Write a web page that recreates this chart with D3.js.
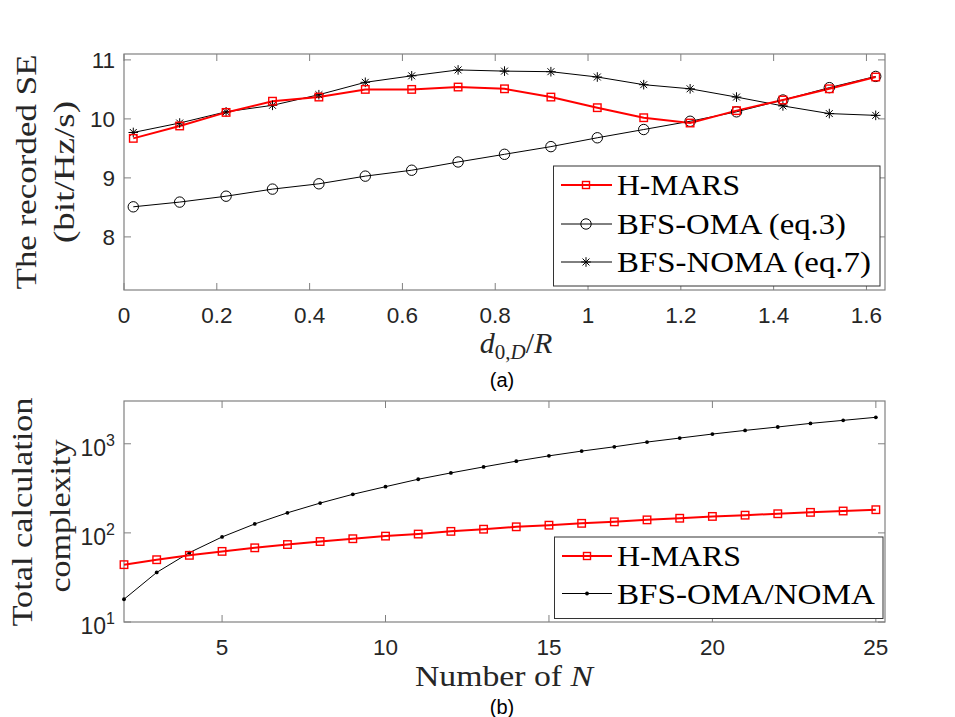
<!DOCTYPE html>
<html>
<head>
<meta charset="utf-8">
<script src="https://cdn.jsdelivr.net/npm/d3@7"></script>
<style>
  html, body { margin: 0; padding: 0; background: #fff; }
  svg { display: block; }
</style>
</head>
<body>
<svg id="chart" width="955" height="717"></svg>
<script>
// ---------- data: panel (a) ----------
const distRatio = [0.02, 0.12, 0.22, 0.32, 0.42, 0.52, 0.62, 0.72, 0.82, 0.92, 1.02, 1.12, 1.22, 1.32, 1.42, 1.52, 1.62];
const hmarsSE  = [9.67, 9.88, 10.11, 10.30, 10.37, 10.50, 10.50, 10.54, 10.51, 10.37, 10.19, 10.02, 9.93, 10.14, 10.32, 10.51, 10.71];
const omaSE    = [8.51, 8.59, 8.69, 8.81, 8.90, 9.03, 9.13, 9.27, 9.40, 9.53, 9.68, 9.82, 9.96, 10.12, 10.32, 10.53, 10.72];
const nomaSE   = [9.77, 9.93, 10.12, 10.23, 10.41, 10.62, 10.73, 10.83, 10.81, 10.80, 10.71, 10.58, 10.51, 10.37, 10.22, 10.09, 10.06];
const topXTicks = [0, 0.2, 0.4, 0.6, 0.8, 1, 1.2, 1.4, 1.6];
const topYTicks = [8, 9, 10, 11];
const topLegend = ["H-MARS", "BFS-OMA (eq.3)", "BFS-NOMA (eq.7)"];

// ---------- data: panel (b) ----------
const nValues  = [2, 3, 4, 5, 6, 7, 8, 9, 10, 11, 12, 13, 14, 15, 16, 17, 18, 19, 20, 21, 22, 23, 24, 25];
const hmarsCx  = [44, 50, 56, 62, 68, 74, 80, 86, 92, 97, 104, 110, 117, 122, 128, 133, 140, 146, 153, 158, 164, 170, 176, 182];
const bfsCx    = [18, 36, 60, 90, 126, 168, 216, 271, 330, 400, 471, 550, 638, 732, 828, 925, 1045, 1159, 1286, 1413, 1543, 1694, 1832, 1982];
const botXTicks = [5, 10, 15, 20, 25];
const botYTicks = [10, 100, 1000];
const botLegend = ["H-MARS", "BFS-OMA/NOMA"];

// ---------- styling ----------
const AXIS = "#808080", TXT = "#262626", RED = "#ff0000";
const SANS = "'Liberation Sans', Arial, Helvetica, sans-serif";
const SERIF = "'Liberation Serif', 'Times New Roman', serif";
const TICK_FS = 22.5;

const svg = d3.select("#chart");

// ---------- scales ----------
const xTop = d3.scaleLinear().domain([0, 1.64]).range([124, 885]);
const yTop = d3.scaleLinear().domain([7.1, 11.1]).range([290, 54]);
const xBot = d3.scaleLinear().domain([2, 25.28]).range([124, 885]);
const yBot = d3.scaleLog().domain([10, 3020]).range([622, 401]);

function drawFrame(x, y, xticks, yticks, xfmt, yfmtFn) {
  const g = svg.append("g");
  const [x0, x1] = x.range(), [y0, y1] = y.range(); // y0 bottom, y1 top
  const T = 7;
  xticks.forEach(t => {
    const px = x(t);
    g.append("line").attr("x1", px).attr("x2", px).attr("y1", y0).attr("y2", y0 - T).attr("stroke", AXIS);
    g.append("line").attr("x1", px).attr("x2", px).attr("y1", y1).attr("y2", y1 + T).attr("stroke", AXIS);
    g.append("text").attr("x", px).attr("y", y0 + 33).attr("text-anchor", "middle")
      .attr("font-family", SANS).attr("font-size", TICK_FS).attr("fill", TXT).text(xfmt(t));
  });
  yticks.forEach(t => {
    const py = y(t);
    g.append("line").attr("x1", x0).attr("x2", x0 + T).attr("y1", py).attr("y2", py).attr("stroke", AXIS);
    g.append("line").attr("x1", x1).attr("x2", x1 - T).attr("y1", py).attr("y2", py).attr("stroke", AXIS);
    yfmtFn(g, t, x0 - 9, py);
  });
  g.append("rect").attr("x", x0).attr("y", y1).attr("width", x1 - x0).attr("height", y0 - y1)
    .attr("fill", "none").attr("stroke", AXIS).attr("stroke-width", 1.2);
  return g;
}

// marker helpers
function square(g, cx, cy, color, s) {
  g.append("rect").attr("x", cx - s / 2).attr("y", cy - s / 2).attr("width", s).attr("height", s)
    .attr("fill", "none").attr("stroke", color).attr("stroke-width", 1.4);
}
function circle(g, cx, cy) {
  g.append("circle").attr("cx", cx).attr("cy", cy).attr("r", 5.2)
    .attr("fill", "none").attr("stroke", "#000").attr("stroke-width", 1);
}
function star(g, cx, cy) {
  const r = 4.8, d = r * 0.72;
  [[0, -r, 0, r], [-r, 0, r, 0], [-d, -d, d, d], [-d, d, d, -d]].forEach(l =>
    g.append("line").attr("x1", cx + l[0]).attr("y1", cy + l[1]).attr("x2", cx + l[2]).attr("y2", cy + l[3])
      .attr("stroke", "#000").attr("stroke-width", 1));
}
function dot(g, cx, cy) {
  g.append("circle").attr("cx", cx).attr("cy", cy).attr("r", 1.9).attr("fill", "#000");
}

// ---------- panel (a) ----------
drawFrame(xTop, yTop, topXTicks, topYTicks, d => String(+d.toFixed(1)), (g, t, x, y) => {
  g.append("text").attr("x", x).attr("y", y + 8).attr("text-anchor", "end")
    .attr("font-family", SANS).attr("font-size", TICK_FS).attr("fill", TXT).text(t);
});

const gA = svg.append("g");
function series(g, xs, ys, x, y, color, width) {
  const line = d3.line().x((d, i) => x(xs[i])).y(d => y(d));
  g.append("path").datum(ys).attr("d", line).attr("fill", "none").attr("stroke", color).attr("stroke-width", width);
}
series(gA, distRatio, omaSE, xTop, yTop, "#000", 1);
series(gA, distRatio, nomaSE, xTop, yTop, "#000", 1);
series(gA, distRatio, hmarsSE, xTop, yTop, RED, 2);
omaSE.forEach((v, i) => circle(gA, xTop(distRatio[i]), yTop(v)));
nomaSE.forEach((v, i) => star(gA, xTop(distRatio[i]), yTop(v)));
hmarsSE.forEach((v, i) => square(gA, xTop(distRatio[i]), yTop(v), RED, 7.5));

// legend (a)
{
  const g = svg.append("g");
  g.append("rect").attr("x", 553.5).attr("y", 166).attr("width", 326.5).attr("height", 120)
    .attr("fill", "#fff").attr("stroke", "#333").attr("stroke-width", 1);
  const rows = [195, 234, 272];
  const lens = [123, 229, 254];
  rows.forEach((by, i) => {
    const cy = by - 10;
    g.append("line").attr("x1", 561).attr("x2", 612).attr("y1", cy).attr("y2", cy)
      .attr("stroke", i === 0 ? RED : "#000").attr("stroke-width", i === 0 ? 2 : 1);
    if (i === 0) square(g, 586, cy, RED, 7);
    else if (i === 1) circle(g, 586, cy);
    else star(g, 586, cy);
    g.append("text").attr("x", 617).attr("y", by).attr("font-family", SERIF).attr("font-size", 30)
      .attr("fill", "#000").attr("textLength", lens[i]).attr("lengthAdjust", "spacingAndGlyphs").text(topLegend[i]);
  });
}

// axis labels (a)
{
  const cy = 172;
  svg.append("text").attr("transform", `translate(36,${cy}) rotate(-90)`).attr("text-anchor", "middle")
    .attr("font-family", SERIF).attr("font-size", 30).attr("fill", TXT)
    .attr("textLength", 235).attr("lengthAdjust", "spacingAndGlyphs").text("The recorded SE");
  svg.append("text").attr("transform", `translate(74,${cy}) rotate(-90)`).attr("text-anchor", "middle")
    .attr("font-family", SERIF).attr("font-size", 30).attr("fill", TXT)
    .attr("textLength", 142).attr("lengthAdjust", "spacingAndGlyphs").text("(bit/Hz/s)");
  const t = svg.append("text").attr("x", 516).attr("y", 353).attr("text-anchor", "middle")
    .attr("font-family", SERIF).attr("font-size", 30).attr("fill", TXT);
  t.append("tspan").attr("font-style", "italic").text("d");
  t.append("tspan").attr("font-size", 21).attr("dy", 6).text("0,");
  t.append("tspan").attr("font-size", 21).attr("font-style", "italic").text("D");
  t.append("tspan").attr("dy", -6).text("/");
  t.append("tspan").attr("font-style", "italic").text("R");
  svg.append("text").attr("x", 502).attr("y", 387).attr("text-anchor", "middle")
    .attr("font-family", SANS).attr("font-size", 20).attr("fill", "#000").text("(a)");
}

// ---------- panel (b) ----------
drawFrame(xBot, yBot, botXTicks, botYTicks, d => String(d), (g, t, x, y) => {
  const e = Math.round(Math.log10(t));
  const tx = g.append("text").attr("x", x).attr("y", y + 12).attr("text-anchor", "end")
    .attr("font-family", SANS).attr("font-size", 23).attr("fill", TXT);
  tx.append("tspan").text("10");
  tx.append("tspan").attr("font-size", 16).attr("dy", -10).text(e);
});

const gB = svg.append("g");
series(gB, nValues, bfsCx, xBot, yBot, "#000", 1);
series(gB, nValues, hmarsCx, xBot, yBot, RED, 2);
bfsCx.forEach((v, i) => dot(gB, xBot(nValues[i]), yBot(v)));
hmarsCx.forEach((v, i) => square(gB, xBot(nValues[i]), yBot(v), RED, 7.5));

// legend (b)
{
  const g = svg.append("g");
  g.append("rect").attr("x", 554.5).attr("y", 537).attr("width", 328.5).attr("height", 81.5)
    .attr("fill", "#fff").attr("stroke", "#333").attr("stroke-width", 1);
  const rows = [566, 603.5];
  const lens = [124, 258];
  rows.forEach((by, i) => {
    const cy = by - 10;
    g.append("line").attr("x1", 562).attr("x2", 612).attr("y1", cy).attr("y2", cy)
      .attr("stroke", i === 0 ? RED : "#000").attr("stroke-width", i === 0 ? 2 : 1);
    if (i === 0) square(g, 587, cy, RED, 7);
    else dot(g, 587, cy);
    g.append("text").attr("x", 617).attr("y", by).attr("font-family", SERIF).attr("font-size", 30)
      .attr("fill", "#000").attr("textLength", lens[i]).attr("lengthAdjust", "spacingAndGlyphs").text(botLegend[i]);
  });
}

// axis labels (b)
{
  const cy = 512;
  svg.append("text").attr("transform", `translate(32,${cy}) rotate(-90)`).attr("text-anchor", "middle")
    .attr("font-family", SERIF).attr("font-size", 30).attr("fill", TXT)
    .attr("textLength", 229).attr("lengthAdjust", "spacingAndGlyphs").text("Total calculation");
  svg.append("text").attr("transform", `translate(70,${cy + 4}) rotate(-90)`).attr("text-anchor", "middle")
    .attr("font-family", SERIF).attr("font-size", 30).attr("fill", TXT)
    .attr("textLength", 153).attr("lengthAdjust", "spacingAndGlyphs").text("complexity");
  const t = svg.append("text").attr("x", 504).attr("y", 686).attr("text-anchor", "middle")
    .attr("font-family", SERIF).attr("font-size", 30).attr("fill", TXT)
    .attr("textLength", 178).attr("lengthAdjust", "spacingAndGlyphs");
  t.append("tspan").text("Number of ");
  t.append("tspan").attr("font-style", "italic").text("N");
  svg.append("text").attr("x", 502).attr("y", 714).attr("text-anchor", "middle")
    .attr("font-family", SANS).attr("font-size", 20).attr("fill", "#000").text("(b)");
}
</script>
</body>
</html>
